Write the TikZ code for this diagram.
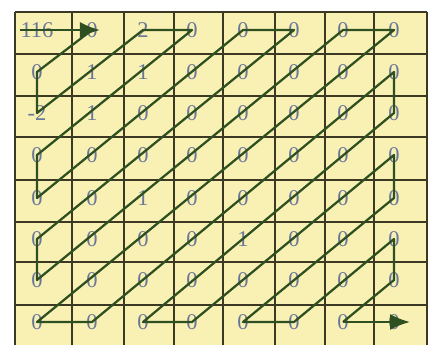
\documentclass[tikz,border=0pt]{standalone}
\usepackage{fontspec}
\setmainfont{Liberation Serif}
\usepackage{tikz}
\usetikzlibrary{arrows.meta}
\definecolor{cellyellow}{HTML}{F9F0B4}
\definecolor{gridline}{HTML}{3B3823}
\definecolor{scanline}{HTML}{2E4F1F}
\definecolor{coefgray}{HTML}{6A7898}
\tikzset{coef/.style={font=\fontsize{16}{18}\selectfont, text=coefgray, inner sep=0pt}}

\begin{document}
\begin{tikzpicture}[x=0.025cm, y=-0.025cm, >={Latex[length=5mm,width=4mm]}]
    
    \useasboundingbox (0,0) rectangle (435,345);
    \def\colx{{37,92,143,192,243,294,343,394}}
    \def\rowy{{30,72,113,155,198,239,280,322}}
    
    % ---------------------------------------------------
    % 1. Grid
    % ---------------------------------------------------
    \fill[cellyellow] (15,12) rectangle (427,345);
    \foreach \gx in {15,72,124,174,223,275,325,374,427}
        \draw[gridline, line width=1.5pt] (\gx,12) -- (\gx,345);
    \foreach \gy in {12,54,96,137,180,222,262,305}
        \draw[gridline, line width=1.5pt] (15,\gy) -- (427,\gy);
    
    % ---------------------------------------------------
    % 2. Coefficients
    % ---------------------------------------------------
    \foreach \vals [count=\r from 0] in {{116,0,2,0,0,0,0,0},{0,1,1,0,0,0,0,0},
        {-2,1,0,0,0,0,0,0},{0,0,0,0,0,0,0,0},{0,0,1,0,0,0,0,0},
        {0,0,0,0,1,0,0,0},{0,0,0,0,0,0,0,0},{0,0,0,0,0,0,0,0}}
    {
        \foreach \v [count=\c from 0] in \vals {
            \pgfmathsetmacro{\nx}{\colx[\c]}
            \pgfmathsetmacro{\ny}{\rowy[\r]}
            \node[coef] (c-\r-\c) at (\nx,\ny) {\v};
        }
    }
    
    % ---------------------------------------------------
    % 3. Zigzag scan
    % ---------------------------------------------------
    \draw[->, scanline, line width=1.6pt] (c-0-0.west) -- ([xshift=2mm]c-0-1.center);
    \draw[scanline, line width=1.6pt, line join=round] (c-0-1.center)
        -- (c-1-0.center) -- (c-2-0.center) -- (c-0-2.center) -- (c-0-3.center)
        -- (c-3-0.center) -- (c-4-0.center) -- (c-0-4.center) -- (c-0-5.center)
        -- (c-5-0.center) -- (c-6-0.center) -- (c-0-6.center) -- (c-0-7.center)
        -- (c-7-0.center) -- (c-7-1.center) -- (c-1-7.center) -- (c-2-7.center)
        -- (c-7-2.center) -- (c-7-3.center) -- (c-3-7.center) -- (c-4-7.center)
        -- (c-7-4.center) -- (c-7-5.center) -- (c-5-7.center) -- (c-6-7.center)
        -- (c-7-6.center);
    \draw[->, scanline, line width=1.6pt] (c-7-6.center) -- ([xshift=4mm]c-7-7.center);
    
\end{tikzpicture}
\end{document}
